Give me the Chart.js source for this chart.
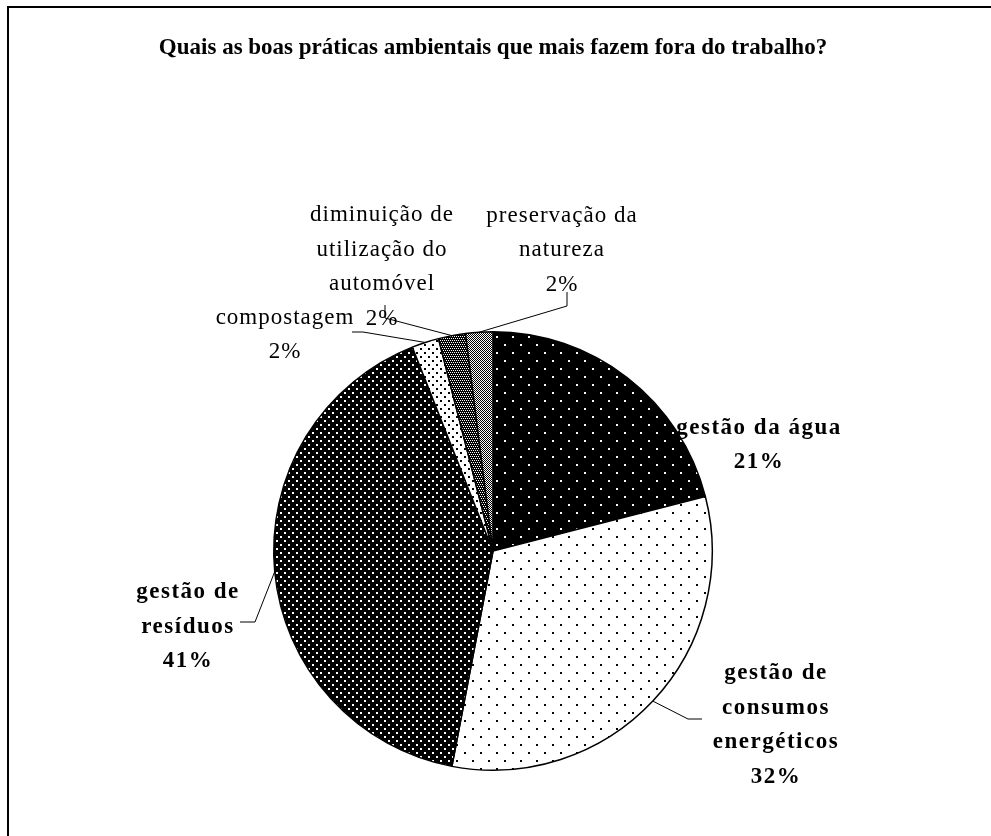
<!DOCTYPE html>
<html>
<head>
<meta charset="utf-8">
<script src="https://cdn.jsdelivr.net/npm/chart.js@4/dist/chart.umd.min.js"></script>
<style>
  body { margin: 0; background: #fff; }
  #frame { position: absolute; left: 7px; top: 6px; width: 1000px; height: 900px;
           border-left: 2px solid #000; border-top: 2px solid #000; }
  #pie { position: absolute; left: 0; top: 0; }
</style>
</head>
<body>
<div id="frame"></div>
<canvas id="pie" width="991" height="836"></canvas>
<script>
var categories = [
	"gestão da água",
	"gestão de\nconsumos\nenergéticos",
	"gestão de\nresíduos",
	"compostagem",
	"diminuição de\nutilização do\nautomóvel",
	"preservação da\nnatureza"
];
var percentValues = [21, 32, 41, 2, 2, 2];
var boldLabel = [true, true, true, false, false, false];

// label block centre, relative to the pie centre
var labelPos = [[266, -106], [283, 174], [-305, 76], [-208, -216], [-111, -284], [69, -301]];
// leader: start point and elbow, relative to the pie centre (null = no line)
var leaders = [
	null,
	[[209, 168], [195, 168]],
	[[-253, 71], [-238, 71]],
	[[-141, -219], [-130, -219]],
	[[-108, -246], [-108, -233]],
	[[74, -259], [74, -245]]
];

function makePattern(size, bg, fg, dots, dot) {
	var c = document.createElement("canvas");
	c.width = size[0];
	c.height = size[1];
	var g = c.getContext("2d");
	g.fillStyle = bg;
	g.fillRect(0, 0, c.width, c.height);
	g.fillStyle = fg;
	dots.forEach(function (d) {
		g.fillRect(d[0], d[1], dot, dot);
	});
	return g.createPattern(c, "repeat");
}

var ctx0 = document.getElementById("pie").getContext("2d");
var fills = [
	makePattern([16, 16], "#000", "#fff", [[0, 0], [8, 8]], 2),
	makePattern([16, 16], "#fff", "#000", [[0, 0], [8, 8]], 2),
	makePattern([8, 8], "#000", "#fff", [[0, 0], [4, 4]], 2),
	makePattern([8, 8], "#fff", "#000", [[0, 0], [4, 4]], 2),
	makePattern([4, 4], "#000", "#fff", [[0, 0], [2, 0], [1, 2], [3, 2]], 1),
	makePattern([2, 2], "#fff", "#000", [[0, 0], [1, 1]], 1)
];

var labelPlugin = {
	id: "labels",
	afterDraw: function (chart) {
		var ctx = chart.ctx;
		var meta = chart.getDatasetMeta(0);
		var total = percentValues.reduce(function (a, b) { return a + b; }, 0);
		ctx.save();
		meta.data.forEach(function (arc, i) {
			var p = arc.getProps(["x", "y", "startAngle", "endAngle", "outerRadius"], true);
			var cx = p.x, cy = p.y;
			var mid = (p.startAngle + p.endAngle) / 2;
			if (leaders[i]) {
				ctx.strokeStyle = "#000";
				ctx.lineWidth = 1;
				ctx.beginPath();
				ctx.moveTo(cx + leaders[i][0][0], cy + leaders[i][0][1]);
				ctx.lineTo(cx + leaders[i][1][0], cy + leaders[i][1][1]);
				ctx.lineTo(cx + Math.cos(mid) * p.outerRadius, cy + Math.sin(mid) * p.outerRadius);
				ctx.stroke();
			}
			var lines = categories[i].split("\n");
			lines.push(Math.round(percentValues[i] / total * 100) + "%");
			var lh = 34.5;
			var top = cy + labelPos[i][1] - (lines.length - 1) * lh / 2;
			ctx.font = (boldLabel[i] ? "bold " : "") + "23px 'Liberation Serif'";
			ctx.letterSpacing = boldLabel[i] ? "1.5px" : "1px";
			ctx.fillStyle = "#000";
			ctx.textAlign = "center";
			ctx.textBaseline = "middle";
			lines.forEach(function (t, k) {
				ctx.fillText(t, cx + labelPos[i][0], top + k * lh);
			});
		});
		ctx.restore();
	}
};

new Chart(ctx0, {
	type: "pie",
	data: {
		labels: categories,
		datasets: [
			{
				data: percentValues,
				backgroundColor: fills,
				borderColor: "#000",
				borderWidth: 1.5,
				hoverOffset: 0
			}
		]
	},
	options: {
		responsive: false,
		animation: false,
		layout: { padding: { left: 0, right: 5, top: 0, bottom: 65 } },
		plugins: {
			legend: { display: false },
			tooltip: { enabled: false },
			title: {
				display: true,
				text: "Quais as boas práticas ambientais que mais fazem fora do trabalho?",
				color: "#000",
				font: { family: "'Liberation Serif'", size: 23, weight: "bold", lineHeight: 1.2 },
				padding: { top: 34.2, bottom: 269.2 }
			}
		}
	},
	plugins: [labelPlugin]
});
</script>
</body>
</html>
